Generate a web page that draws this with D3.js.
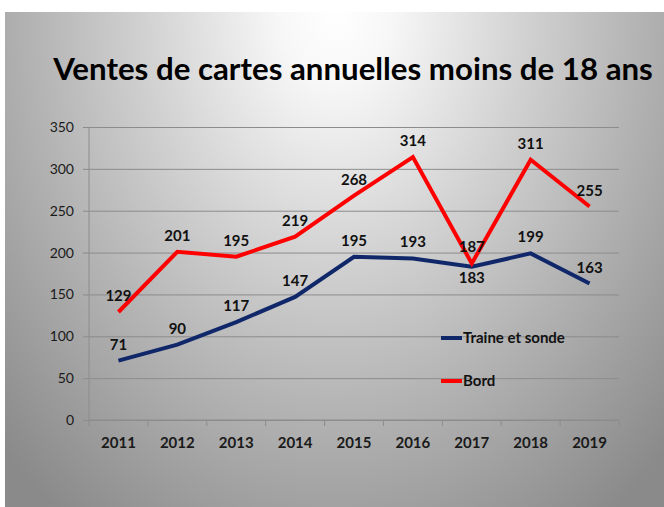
<!DOCTYPE html>
<html>
<head>
<meta charset="utf-8">
<script src="https://cdnjs.cloudflare.com/ajax/libs/d3/7.8.5/d3.min.js"></script>
<style>
  html, body { margin: 0; padding: 0; background: #fff; }
  svg text { font-family: Lato, "Open Sans", sans-serif; }
</style>
</head>
<body>
<div id="chart"></div>
<script>
"use strict";

// data
const years = ["2011", "2012", "2013", "2014", "2015", "2016", "2017", "2018", "2019"];
const traine = [71, 90, 117, 147, 195, 193, 183, 199, 163];
const bord = [129, 201, 195, 219, 268, 314, 187, 311, 255];
const yTicks = [0, 50, 100, 150, 200, 250, 300, 350];
const seriesNames = ["Traine et sonde", "Bord"];
const title = "Ventes de cartes annuelles moins de 18 ans";

const W = 664, H = 507;
const plot = { left: 89, right: 619, top: 127, bottom: 420 };

const svg = d3.select("#chart").append("svg")
    .attr("width", W)
    .attr("height", H);

// background: radial grey gradient coming from the top centre
const defs = svg.append("defs");
const grad = defs.append("radialGradient")
    .attr("id", "bg")
    .attr("gradientUnits", "userSpaceOnUse")
    .attr("cx", 0).attr("cy", 0).attr("r", 1)
    .attr("gradientTransform", "translate(335,10) scale(470,620)");
[[0, "#ffffff"], [0.12, "#f7f7f7"], [0.4, "#d2d2d2"], [0.65, "#b3b3b3"], [1, "#8a8a8a"]]
    .forEach(s => grad.append("stop").attr("offset", s[0]).attr("stop-color", s[1]));

svg.append("rect")
    .attr("x", 5).attr("y", 12)
    .attr("width", W - 5).attr("height", H - 12)
    .attr("fill", "url(#bg)");

// title, fitted to the width seen in the reference
const titleText = svg.append("text")
    .attr("x", 353).attr("y", 80)
    .attr("text-anchor", "middle")
    .style("font-weight", "bold")
    .style("font-size", "28px")
    .attr("fill", "#000")
    .text(title);
const tw = titleText.node().getComputedTextLength();
titleText.style("font-size", (28 * 600 / tw) + "px");

// scales
const x = d3.scaleBand().domain(years).range([plot.left, plot.right]);
const y = d3.scaleLinear().domain([0, 350]).range([plot.bottom, plot.top]);
const cx = d => x(d) + x.bandwidth() / 2;

// gridlines + y axis
const yAxis = d3.axisLeft(y)
    .tickValues(yTicks)
    .tickSize(-(plot.right - plot.left))
    .tickPadding(15)
    .tickFormat(d3.format("d"));
const gy = svg.append("g")
    .attr("transform", "translate(" + plot.left + ",0)")
    .call(yAxis);
gy.select(".domain").remove();
gy.selectAll(".tick line")
    .attr("x1", -6)
    .attr("stroke", "#8c8c8c");
gy.selectAll(".tick text")
    .attr("fill", "#1a1a1a")
    .style("font-size", "14px");

svg.append("line")
    .attr("x1", plot.left).attr("x2", plot.left)
    .attr("y1", plot.top).attr("y2", plot.bottom)
    .attr("stroke", "#8c8c8c");

// x axis with ticks between categories
const gx = svg.append("g")
    .attr("transform", "translate(0," + plot.bottom + ")");
gx.append("line")
    .attr("x1", plot.left).attr("x2", plot.right)
    .attr("stroke", "#8c8c8c");
gx.selectAll("line.tk")
    .data(years.concat(["end"]))
    .enter().append("line")
    .attr("class", "tk")
    .attr("x1", (d, i) => plot.left + i * x.bandwidth())
    .attr("x2", (d, i) => plot.left + i * x.bandwidth())
    .attr("y1", 0).attr("y2", 6)
    .attr("stroke", "#8c8c8c");
gx.selectAll("text")
    .data(years)
    .enter().append("text")
    .attr("x", d => cx(d))
    .attr("y", 28)
    .attr("text-anchor", "middle")
    .style("font-weight", "bold")
    .style("font-size", "15px")
    .attr("fill", "#1a1a1a")
    .text(d => d);

// lines
const colors = ["#10286a", "#ff0000"];
const allSeries = [traine, bord];
const line = d3.line()
    .x((d, i) => cx(years[i]))
    .y(d => y(d));

allSeries.forEach((vals, k) => {
    svg.append("path")
        .datum(vals)
        .attr("d", line)
        .attr("fill", "none")
        .attr("stroke", colors[k])
        .attr("stroke-width", 4)
        .attr("stroke-linejoin", "miter");
});

// data labels (183 of 2017 for the blue series sits below the point)
allSeries.forEach((vals, k) => {
    svg.append("g").selectAll("text")
        .data(vals)
        .enter().append("text")
        .attr("x", (d, i) => cx(years[i]))
        .attr("y", (d, i) => (k === 0 && i === 6) ? y(d) + 16 : y(d) - 11)
        .attr("text-anchor", "middle")
        .style("font-weight", "bold")
        .style("font-size", "15px")
        .attr("fill", "#111")
        .text(d => d);
});

// legend
const legendY = [338, 381];
seriesNames.forEach((name, k) => {
    svg.append("line")
        .attr("x1", 441).attr("x2", 462)
        .attr("y1", legendY[k]).attr("y2", legendY[k])
        .attr("stroke", colors[k])
        .attr("stroke-width", 4);
    svg.append("text")
        .attr("x", 463).attr("y", legendY[k] + 5)
        .style("font-weight", "bold")
        .style("font-size", "15px")
        .attr("fill", "#111")
        .text(name);
});
</script>
</body>
</html>
